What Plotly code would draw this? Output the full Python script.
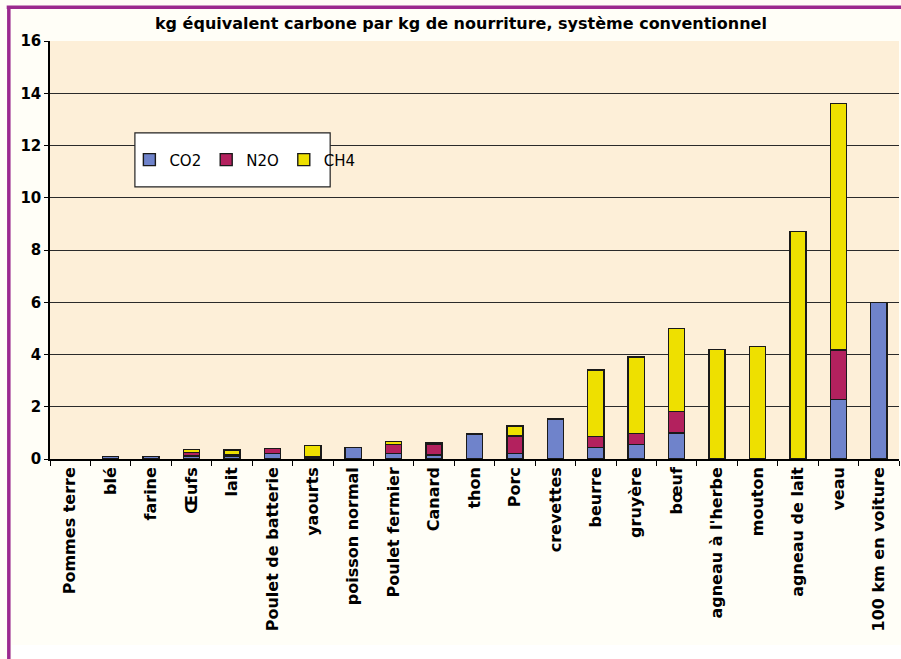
import plotly.graph_objects as go

categories = [
    "Pommes terre", "blé", "farine", "Œufs", "lait", "Poulet de batterie",
    "yaourts", "poisson normal", "Poulet fermier", "Canard", "thon", "Porc",
    "crevettes", "beurre", "gruyère", "bœuf", "agneau à l'herbe", "mouton",
    "agneau de lait", "veau", "100 km en voiture",
]
# None = no segment for that gas
co2 = [None, 0.1, 0.1, 0.12, 0.1, 0.2, 0.08, 0.45, 0.2, 0.15, 0.95, 0.2,
       1.53, 0.45, 0.55, 1.0, None, None, None, 2.28, 6.0]
n2o = [None, None, None, 0.14, 0.05, 0.2, 0.02, None, 0.35, 0.4, None, 0.68,
       None, 0.4, 0.42, 0.82, None, None, None, 1.9, None]
ch4 = [None, None, None, 0.1, 0.2, None, 0.42, None, 0.12, 0.07, None, 0.38,
       None, 2.55, 2.93, 3.18, 4.2, 4.3, 8.7, 9.42, None]

series = [
    ("CO2", co2, "#6F83CB"),
    ("N2O", n2o, "#B3215E"),
    ("CH4", ch4, "#EEE000"),
]

fig = go.Figure()
for name, vals, color in series:
    fig.add_trace(go.Bar(
        x=categories,
        y=vals,
        name=name,
        marker=dict(color=color, line=dict(color="#1a1a1a", width=1.4)),
    ))

# purple frame around the picture (top + left edges)
fig.add_shape(type="line", xref="paper", yref="paper",
              x0=-0.051, x1=1.02, y0=1.081, y1=1.081,
              line=dict(color="#9B2A8E", width=3.5))
fig.add_shape(type="line", xref="paper", yref="paper",
              x0=-0.0485, x1=-0.0485, y0=1.081, y1=-0.7,
              line=dict(color="#9B2A8E", width=3.5))
# white strip under the inner panel
fig.add_shape(type="rect", xref="paper", yref="paper",
              x0=-0.045, x1=1.01, y0=-0.7, y1=-0.445,
              fillcolor="white", line=dict(width=0), layer="below")
# legend box
fig.add_shape(type="rect", xref="paper", yref="paper",
              x0=0.100, x1=0.330, y0=0.651, y1=0.780,
              fillcolor="white", line=dict(color="#222222", width=1.2))

fig.update_layout(
    width=901,
    height=659,
    barmode="stack",
    bargap=0.6,
    paper_bgcolor="#FFFEF7",
    plot_bgcolor="#FDEFD8",
    font=dict(family="DejaVu Sans", color="black"),
    margin=dict(l=50, r=2, t=41, b=200),
    title=dict(
        text="<b>kg équivalent carbone par kg de nourriture, système conventionnel</b>",
        font=dict(size=16, family="DejaVu Sans"),
        x=0.484, xref="paper", xanchor="center", y=0.965, yanchor="middle",
    ),
    xaxis=dict(
        tickangle=-90,
        tickfont=dict(size=16, family="DejaVu Sans", weight="bold"),
        ticks="outside",
        tickson="boundaries",
        ticklen=5,
        tickcolor="black",
        showline=True,
        linecolor="black",
        linewidth=1.5,
    ),
    yaxis=dict(
        range=[0, 16],
        dtick=2,
        tickfont=dict(size=15, family="DejaVu Sans", weight="bold"),
        ticks="outside",
        ticklen=4,
        tickcolor="black",
        showgrid=True,
        gridcolor="#2a2a2a",
        gridwidth=1,
        showline=True,
        linecolor="black",
        linewidth=1.5,
        zeroline=False,
    ),
    legend=dict(
        orientation="h",
        x=0.0935, xanchor="left",
        y=0.7155, yanchor="middle",
        bgcolor="rgba(0,0,0,0)",
        borderwidth=0,
        font=dict(size=15, family="DejaVu Sans"),
        traceorder="normal",
        itemwidth=30,
    ),
)

fig.write_html(
    "out.html",
    config={"displayModeBar": False},
    post_script="document.body.style.margin='0';",
)
